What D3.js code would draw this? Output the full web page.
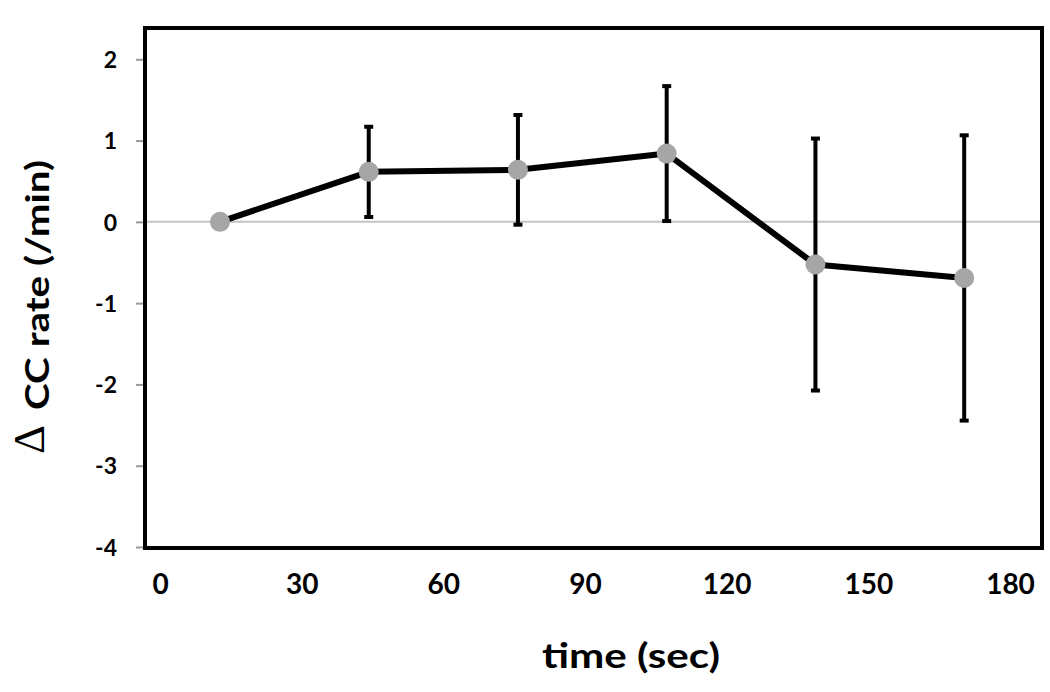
<!DOCTYPE html>
<html>
<head>
<meta charset="utf-8">
<script src="https://cdn.jsdelivr.net/npm/d3@7"></script>
<style>
  html, body { margin: 0; padding: 0; background: #fff; }
  svg { display: block; }
</style>
</head>
<body>
<svg id="chart" width="1050" height="692"></svg>
<script>
// ---- data ----
const times = [12.7, 44.2, 75.8, 107.3, 138.8, 170.3];          // sec
const values = [0, 0.615, 0.64, 0.84, -0.525, -0.69];           // delta CC rate (/min)
const errors = [0, 0.555, 0.675, 0.83, 1.55, 1.755];            // error bar half-length
const xTicks = [0, 30, 60, 90, 120, 150, 180];
const yTicks = [-4, -3, -2, -1, 0, 1, 2];
const xTitle = "time (sec)";
const yTitleSymbol = "\u0394";
const yTitleText = "CC rate (/min)";

const svg = d3.select("#chart");
const frameL = 145, frameR = 1042, frameT = 28, frameB = 548;

const x = d3.scaleLinear().domain([0, 180]).range([160, 1010]);
const y = d3.scaleLinear().domain([-4, 2.385]).range([547, 28]);

// zero reference line
svg.append("line")
  .attr("x1", frameL).attr("x2", frameR)
  .attr("y1", y(0)).attr("y2", y(0))
  .attr("stroke", "#c4c4c4").attr("stroke-width", 2);

// y axis
const yAxis = svg.append("g")
  .attr("transform", `translate(${frameL},0)`)
  .call(d3.axisLeft(y).tickValues(yTicks).tickSize(9).tickPadding(19).tickFormat(d => String(d)));
yAxis.select(".domain").remove();
yAxis.selectAll(".tick line").attr("stroke", "#999").attr("stroke-width", 2);
yAxis.selectAll(".tick text")
  .attr("font-family", "Lato, 'Noto Sans', sans-serif")
  .attr("font-weight", "bold")
  .attr("font-size", 23)
  .attr("fill", "#000")
  .attr("dy", "0.36em");

// x axis labels
const xAxis = svg.append("g")
  .attr("transform", `translate(0,${frameB})`)
  .call(d3.axisBottom(x).tickValues(xTicks).tickSize(0).tickPadding(26).tickFormat(d => String(d)));
xAxis.select(".domain").remove();
xAxis.selectAll(".tick text")
  .attr("font-family", "Lato, 'Noto Sans', sans-serif")
  .attr("font-weight", "bold")
  .attr("font-size", 28)
  .attr("fill", "#000");

// frame
svg.append("rect")
  .attr("x", frameL).attr("y", frameT)
  .attr("width", frameR - frameL).attr("height", frameB - frameT)
  .attr("fill", "none").attr("stroke", "#000").attr("stroke-width", 4);

const pts = times.map((t, i) => ({ t, v: values[i], e: errors[i] }));

// error bars
const eb = svg.append("g");
pts.filter(d => d.e > 0).forEach(d => {
  eb.append("line")
    .attr("x1", x(d.t)).attr("x2", x(d.t))
    .attr("y1", y(d.v + d.e)).attr("y2", y(d.v - d.e))
    .attr("stroke", "#000").attr("stroke-width", 4);
  [d.v + d.e, d.v - d.e].forEach(val => {
    eb.append("line")
      .attr("x1", x(d.t) - 4.5).attr("x2", x(d.t) + 4.5)
      .attr("y1", y(val)).attr("y2", y(val))
      .attr("stroke", "#000").attr("stroke-width", 4);
  });
});

// line
svg.append("path")
  .datum(pts)
  .attr("fill", "none")
  .attr("stroke", "#000")
  .attr("stroke-width", 6)
  .attr("stroke-linejoin", "round")
  .attr("d", d3.line().x(d => x(d.t)).y(d => y(d.v)));

// markers
svg.append("g").selectAll("circle")
  .data(pts).join("circle")
  .attr("cx", d => x(d.t)).attr("cy", d => y(d.v))
  .attr("r", 10)
  .attr("fill", "#a6a6a6");

// x title
svg.append("text")
  .attr("x", 631).attr("y", 668)
  .attr("text-anchor", "middle")
  .attr("font-family", "Lato, 'Noto Sans', sans-serif")
  .attr("font-weight", "bold")
  .attr("font-size", 34)
  .attr("textLength", 178)
  .attr("lengthAdjust", "spacingAndGlyphs")
  .attr("fill", "#000")
  .text(xTitle);

// y title
const yt = svg.append("g");
yt.append("text")
  .attr("transform", "translate(44,454) rotate(-90)")
  .attr("font-family", "'Liberation Serif', serif")
  .attr("font-size", 45)
  .attr("fill", "#000")
  .text(yTitleSymbol);
yt.append("text")
  .attr("transform", "translate(49,410) rotate(-90)")
  .attr("font-family", "Lato, 'Noto Sans', sans-serif")
  .attr("font-weight", "bold")
  .attr("font-size", 32)
  .attr("textLength", 250)
  .attr("lengthAdjust", "spacingAndGlyphs")
  .attr("fill", "#000")
  .text(yTitleText);
</script>
</body>
</html>
